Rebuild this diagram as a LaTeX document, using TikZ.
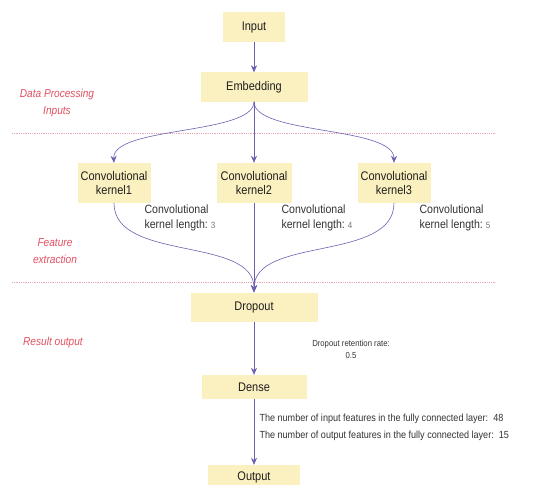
\documentclass[tikz,border=0pt]{standalone}
\usepackage{fontspec}
\setmainfont[FakeStretch=0.88]{Liberation Sans}
\usetikzlibrary{arrows.meta}
\definecolor{boxfill}{HTML}{FBF0C0}
\definecolor{arrblue}{HTML}{6A60B0}
\definecolor{sectred}{HTML}{E05060}
\definecolor{dotpink}{HTML}{E8A8B8}

\begin{document}
\begin{tikzpicture}[x=1pt, y=-1pt, >={Stealth[length=7pt,width=6pt]},
	layer/.style={fill=boxfill, inner sep=0pt, align=center, text=black!88, font=\fontsize{12.5}{14}\selectfont},
	note/.style={align=left, text=black!80, font=\fontsize{12}{14.5}\selectfont},
	section/.style={align=center, text=sectred, font=\fontsize{11.5}{17}\selectfont\itshape},
	flow/.style={->, arrblue, semithick},
	divider/.style={dotpink, densely dotted, thick}]

\useasboundingbox (0,0) rectangle (553,484);

\node[layer, minimum width=62, minimum height=30] at (254,27) (input) {Input};
\node[layer, minimum width=107, minimum height=29] at (254,87) (emb) {Embedding};

\node[layer, minimum width=73, minimum height=40] at (114,183) (k1) {Convolutional\\kernel1};
\node[layer, minimum width=75, minimum height=40] at (254,183) (k2) {Convolutional\\kernel2};
\node[layer, minimum width=73, minimum height=40] at (394,183) (k3) {Convolutional\\kernel3};

\node[layer, minimum width=127, minimum height=29] at (254,307) (drop) {Dropout};
\node[layer, minimum width=105, minimum height=24] at (254,387) (dense) {Dense};
\node[layer, minimum width=92, minimum height=24] at (254,477) (out) {Output};

% section names and dividers
\node[section] at (57,103) (s1) {Data Processing\\Inputs};
\node[section] at (55,251) (s2) {Feature\\extraction};
\node[section] at (53,343) (s3) {Result output};
\draw[divider] (12,133) -- (495,133);
\draw[divider] (12,282) -- (495,282);

% parameters
\node[note, anchor=west] at (141,218) (l1) {Convolutional\\kernel length:\ {\small\color{black!55}3}};
\node[note, anchor=west] at (278,218) (l2) {Convolutional\\kernel length:\ {\small\color{black!55}4}};
\node[note, anchor=west] at (416,218) (l3) {Convolutional\\kernel length:\ {\small\color{black!55}5}};
\node[note, align=center, font=\fontsize{8.8}{12}\selectfont] at (351,349) (rate) {Dropout retention rate:\\0.5};
\node[note, font=\fontsize{10.3}{17}\selectfont, anchor=west] at (256,427) (fc) {The number of input features in the fully connected layer:\ \ 48\\The number of output features in the fully connected layer:\ \ 15};

\draw[flow] (input) -- (emb);
\draw[flow] (emb.south) .. controls (254,135) and (112,126) .. (k1.north);
\draw[flow] (emb) -- (k2);
\draw[flow] (emb.south) .. controls (254,135) and (394,126) .. (k3.north);
\draw[flow] (k1.south) .. controls (114,262) and (254,236) .. (drop.north);
\draw[flow] (k2) -- (drop);
\draw[flow] (k3.south) .. controls (394,262) and (254,236) .. (drop.north);
\draw[flow] (drop) -- (dense);
\draw[flow] (dense) -- (out);
\end{tikzpicture}
\end{document}
